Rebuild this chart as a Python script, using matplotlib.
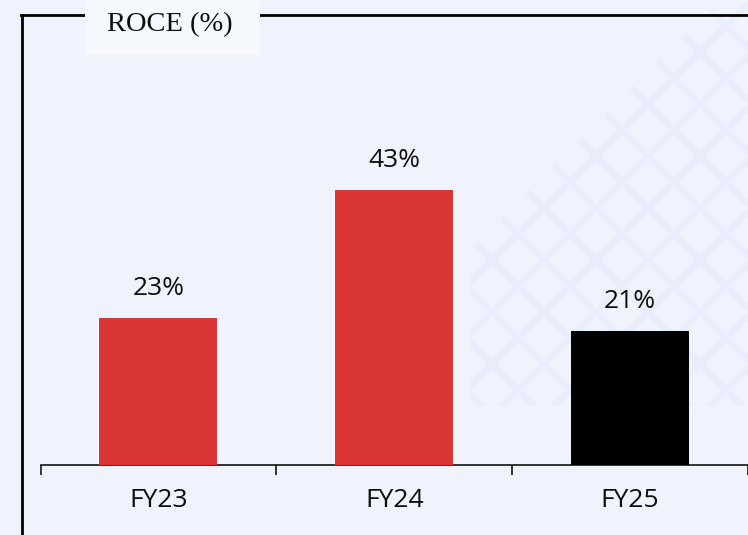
import matplotlib
matplotlib.use("Agg")
import matplotlib.pyplot as plt
from matplotlib.patches import Rectangle, Polygon
from matplotlib.lines import Line2D
import numpy as np

categories = ["FY23", "FY24", "FY25"]
values = [23, 43, 21]
value_labels = ["23%", "43%", "21%"]
bar_colors = ["#db3636", "#db3636", "#000000"]
title = "ROCE (%)"

W, H = 748, 535
bg = "#f0f2fd"
fig = plt.figure(figsize=(W / 100, H / 100), dpi=100)
fig.patch.set_facecolor(bg)

def fx(px):
    return px / W

def fy(py):
    return 1 - py / H

# faint background watermark lattice (decorative)
deco = fig.add_axes([0, 0, 1, 1], zorder=0)
deco.set_xlim(0, W)
deco.set_ylim(H, 0)
deco.axis("off")
clip = Polygon([(470, 405), (470, 250), (720, 0), (748, 0), (748, 405)],
               closed=True, transform=deco.transData, facecolor="none", edgecolor="none")
deco.add_patch(clip)
step = 52
for c in np.arange(-600, 1400, step):
    l1, = deco.plot([c, c + 600], [0, 600], color="#eaedfb", lw=4.5, solid_capstyle="butt")
    l2, = deco.plot([c, c - 600], [0, 600], color="#eaedfb", lw=4.5, solid_capstyle="butt")
    l1.set_clip_path(clip)
    l2.set_clip_path(clip)

left_px = 40.5
ax = fig.add_axes([fx(left_px), fy(465), fx(748) - fx(left_px), fy(15) - fy(465)], zorder=2)
ax.patch.set_alpha(0)
x = np.arange(len(categories))
ax.bar(x, values, width=0.5, color=bar_colors, zorder=3)
ax.set_xlim(-0.5, -0.5 + (748 - left_px) / 236.9)
ax.set_ylim(0, 450 / 6.4)

for xi, v, lab in zip(x, values, value_labels):
    ax.annotate(lab, (xi, v), xytext=(0, 21), textcoords="offset points",
                ha="center", va="center", fontsize=19, family="Open Sans", color="#0d0d0d")

for s in ["top", "right", "left"]:
    ax.spines[s].set_visible(False)
ax.spines["bottom"].set_linewidth(1.1)
ax.spines["bottom"].set_color("#000000")
ax.set_yticks([])
ax.set_xticks(x)
ax.set_xticklabels(categories, fontsize=19, family="Open Sans", color="#0d0d0d")
ax.tick_params(axis="x", which="major", length=0, pad=16.5)
ax.set_xticks([-0.5, 0.5, 1.5, 2.5], minor=True)
ax.tick_params(axis="x", which="minor", length=7.5, width=1.1, color="#000000", direction="out")

# frame lines
lw = 2.0
fig.add_artist(Line2D([fx(21.5), fx(21.5)], [fy(15), fy(535)], color="black", lw=lw, zorder=5))
fig.add_artist(Line2D([fx(20.5), fx(85)], [fy(15), fy(15)], color="black", lw=lw, zorder=5))
fig.add_artist(Line2D([fx(260), fx(748)], [fy(15), fy(15)], color="black", lw=lw, zorder=5))

# title box
fig.add_artist(Rectangle((fx(85), fy(55)), fx(260) - fx(85), fy(0) - fy(55),
                         transform=fig.transFigure, facecolor="#f7f8fe", edgecolor="none", zorder=5))
fig.text(fx(170), fy(25), title, ha="center", va="center", fontsize=20.5,
         family="Liberation Serif", color="#0d0d0d", zorder=6)

fig.savefig("out.png", dpi=100, facecolor=bg)
